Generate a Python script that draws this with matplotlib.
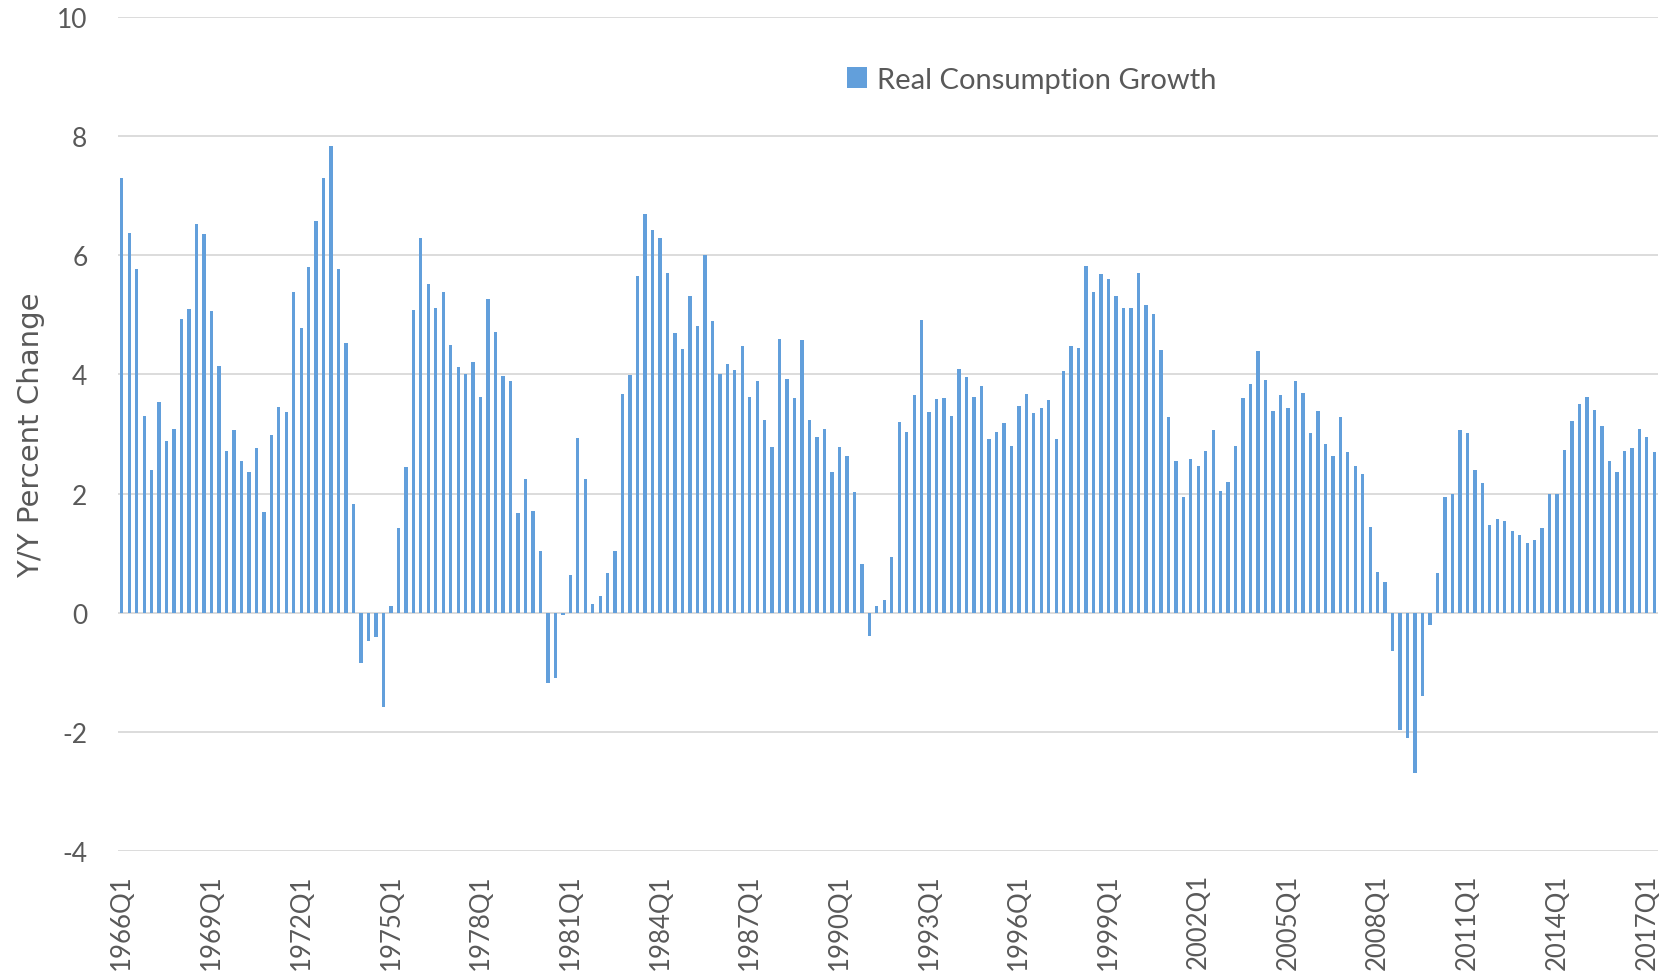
import matplotlib
matplotlib.use("Agg")
import matplotlib.pyplot as plt
import numpy as np

# Quarterly categories 1966Q1 .. 2017Q2
years = list(range(1966, 2018))
quarters = [f"{y}Q{q}" for y in years for q in range(1, 5)][:206]

# Real consumption growth, Y/Y percent change
growth_1966_1975 = [7.30, 6.38, 5.77, 3.30, 2.39, 3.53, 2.89, 3.09, 4.93, 5.10,
                    6.52, 6.36, 5.06, 4.14, 2.71, 3.06, 2.55, 2.37, 2.77, 1.69,
                    2.99, 3.46, 3.37, 5.38, 4.78, 5.81, 6.58, 7.30, 7.84, 5.77,
                    4.53, 1.83, -0.85, -0.47, -0.41, -1.59, 0.11, 1.43, 2.45]
growth_1975_1984 = [5.09, 6.29, 5.51, 5.12, 5.38, 4.50, 4.12, 4.00, 4.21, 3.62,
                    5.26, 4.71, 3.97, 3.89, 1.67, 2.25, 1.70, 1.03, -1.18, -1.09,
                    -0.04, 0.64, 2.93, 2.25, 0.15, 0.28, 0.66, 1.04, 3.68, 3.99,
                    5.65, 6.69, 6.42, 6.29, 5.71, 4.69, 4.43, 5.31]
growth_1985_1994 = [4.81, 6.00, 4.90, 4.00, 4.18, 4.08, 4.48, 3.62, 3.89, 3.23,
                    2.79, 4.60, 3.92, 3.61, 4.57, 3.23, 2.95, 3.09, 2.37, 2.79,
                    2.63, 2.03, 0.82, -0.39, 0.12, 0.21, 0.94, 3.20, 3.03, 3.65,
                    4.91, 3.37, 3.59, 3.61, 3.30, 4.09, 3.96]
growth_1994_2003 = [3.62, 3.81, 2.92, 3.03, 3.18, 2.80, 3.47, 3.68, 3.36, 3.44,
                    3.57, 2.92, 4.06, 4.48, 4.45, 5.82, 5.39, 5.69, 5.61, 5.31,
                    5.12, 5.12, 5.71, 5.17, 5.01, 4.41, 3.28, 2.55, 1.94, 2.58,
                    2.47, 2.71, 3.06, 2.05, 2.20, 2.80, 3.61, 3.84]
growth_2004_2013 = [4.40, 3.91, 3.38, 3.65, 3.44, 3.89, 3.69, 3.02, 3.38, 2.83,
                    2.63, 3.28, 2.69, 2.47, 2.33, 1.44, 0.69, 0.52, -0.65, -1.97,
                    -2.10, -2.69, -1.40, -0.20, 0.66, 1.95, 1.99, 3.06, 3.01, 2.39,
                    2.17, 1.47, 1.57, 1.54, 1.37, 1.31, 1.17]
growth_2013_2017 = [1.22, 1.43, 1.99, 1.99, 2.74, 3.22, 3.51, 3.62, 3.40, 3.14,
                    2.55, 2.36, 2.71, 2.77, 3.09, 2.95, 2.69]

growth = (growth_1966_1975 + growth_1975_1984 + growth_1985_1994 +
          growth_1994_2003 + growth_2004_2013 + growth_2013_2017)

y_ticks = [-4, -2, 0, 2, 4, 6, 8, 10]
series_name = "Real Consumption Growth"
y_label = "Y/Y Percent Change"

BAR = "#629FDB"
TXT = "#595959"
GRID = "#D9D9D9"
FONT = ["Lato", "DejaVu Sans"]

fig = plt.figure(figsize=(16.65, 9.79), dpi=100)
ax = fig.add_axes([0.0709, 0.1297, 0.9249, 0.8519])

x = np.arange(len(growth))
ax.bar(x, growth, width=0.45, color=BAR, label=series_name, zorder=3)

ax.set_xlim(-0.5, len(growth) - 0.5)
ax.set_ylim(-4, 10)
ax.set_yticks(y_ticks)
ax.set_yticklabels([str(v) for v in y_ticks], fontsize=19, color=TXT, family=FONT)
ax.grid(axis="y", color=GRID, linewidth=1.3, zorder=0)
ax.grid(axis="x", visible=False)

tick_idx = list(range(0, len(quarters), 12))
ax.set_xticks(tick_idx)
ax.set_xticklabels([quarters[i] for i in tick_idx], rotation=90, fontsize=18.5,
                   color=TXT, family=FONT)

ax.tick_params(axis="both", length=0)
ax.tick_params(axis="y", pad=22)
ax.tick_params(axis="x", pad=16)
for s in ax.spines.values():
    s.set_visible(False)

ax.set_ylabel(y_label, fontsize=21, color=TXT,
              family=["Liberation Sans Narrow", "DejaVu Sans"])
ax.yaxis.set_label_coords(-0.0474, 0.5)

leg = ax.legend(loc="center left", bbox_to_anchor=(0.456, 0.925), frameon=False,
                handlelength=0.7, handleheight=0.7, handletextpad=0.35,
                prop={"family": FONT, "size": 21})
for t in leg.get_texts():
    t.set_color(TXT)

fig.savefig("out.png", dpi=100, facecolor="white")
